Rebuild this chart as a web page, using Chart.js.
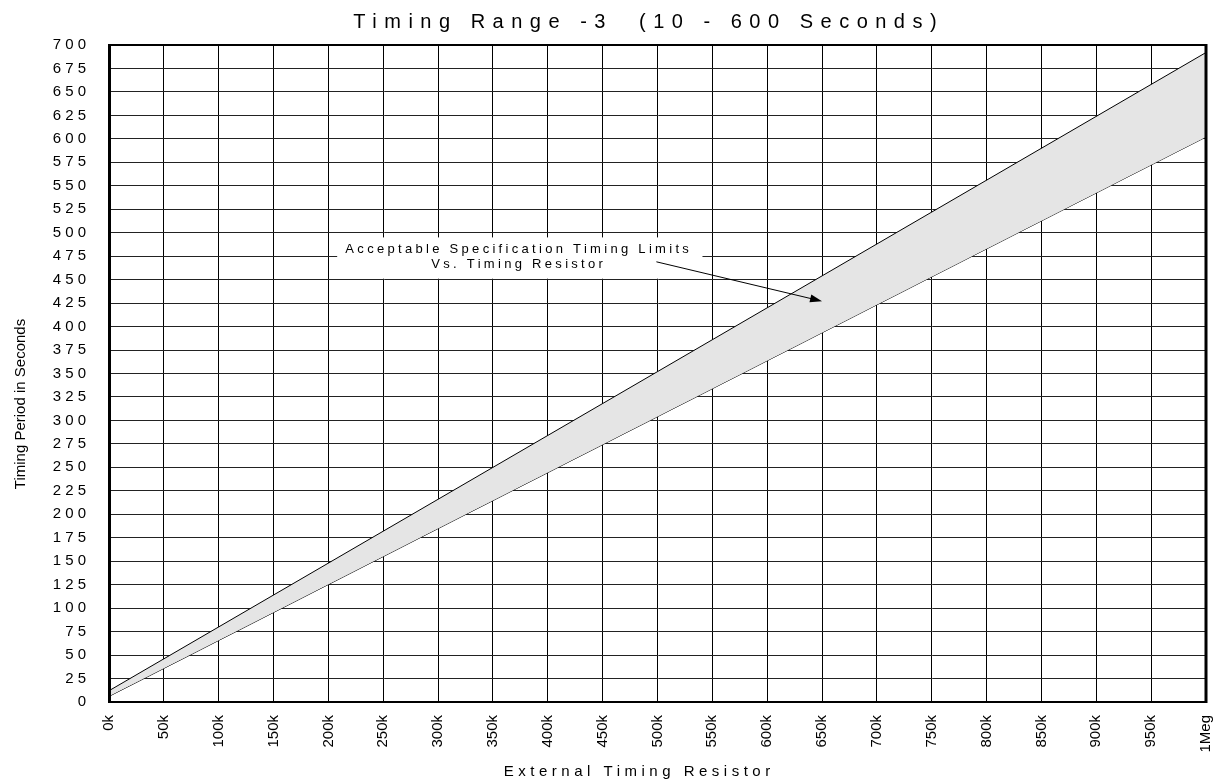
<!DOCTYPE html>
<html>
<head>
<meta charset="utf-8">
<title>Timing Range -3</title>
<script src="https://cdn.jsdelivr.net/npm/chart.js@4.4.1/dist/chart.umd.min.js"></script>
<style>
  html, body { margin: 0; padding: 0; background: #fff; }
  #wrap { width: 1220px; height: 782px; }
</style>
</head>
<body>
<div id="wrap"><canvas id="chart"></canvas></div>
<script>
// ── Data ──────────────────────────────────────────────────────────────────────

const resistorK  = [0, 1000];   // external timing resistor, kOhm
const upperLimit = [12, 692];   // seconds
const lowerLimit = [6, 602];    // seconds

const xTickLabels = ['0k', '50k', '100k', '150k', '200k', '250k', '300k', '350k', '400k', '450k',
  '500k', '550k', '600k', '650k', '700k', '750k', '800k', '850k', '900k', '950k', '1Meg'];

const TITLE   = 'Timing Range -3  (10 - 600 Seconds)';
const X_TITLE = 'External Timing Resistor';
const Y_TITLE = 'Timing Period in Seconds';
const NOTE    = ['Acceptable Specification Timing Limits', 'Vs. Timing Resistor'];

// annotation placement, in data units (kOhm / seconds)
const NOTE_BOX   = { x0: 208, x1: 541, y0: 451, y1: 495 };
const NOTE_TEXT  = { x: 372, y: [478.5, 462.5] };
const NOTE_ARROW = { x0: 499, y0: 469, x1: 650, y1: 427 };

// ── Drawing helpers ───────────────────────────────────────────────────────────

const FONT = 'Arial, "Liberation Sans", Helvetica, sans-serif';

function spacedText(ctx, text, x, y, size, spacing) {
  ctx.save();
  ctx.font = `${size}px ${FONT}`;
  ctx.letterSpacing = '0px';
  const w = ctx.measureText(text).width + spacing * (text.length - 1);
  ctx.letterSpacing = spacing + 'px';
  ctx.fillStyle = '#000';
  ctx.textAlign = 'left';
  ctx.textBaseline = 'alphabetic';
  ctx.fillText(text, x - w / 2, y);
  ctx.restore();
}

const decor = {
  id: 'decor',
  beforeDatasetsDraw(chart) {
    const { ctx, scales: { x, y } } = chart;
    const l = x.getPixelForValue(NOTE_BOX.x0), r = x.getPixelForValue(NOTE_BOX.x1);
    const t = y.getPixelForValue(NOTE_BOX.y1), b = y.getPixelForValue(NOTE_BOX.y0);
    ctx.save();
    ctx.fillStyle = '#fff';
    ctx.fillRect(l, t, r - l, b - t);
    ctx.restore();
    NOTE.forEach((line, i) => {
      spacedText(ctx, line, x.getPixelForValue(NOTE_TEXT.x), y.getPixelForValue(NOTE_TEXT.y[i]), 13, 3.3);
    });
  },
  afterDatasetsDraw(chart) {
    const { ctx, chartArea: a, scales: { x, y } } = chart;
    // arrow
    const x0 = x.getPixelForValue(NOTE_ARROW.x0), y0 = y.getPixelForValue(NOTE_ARROW.y0);
    const x1 = x.getPixelForValue(NOTE_ARROW.x1), y1 = y.getPixelForValue(NOTE_ARROW.y1);
    const ang = Math.atan2(y1 - y0, x1 - x0);
    ctx.save();
    ctx.strokeStyle = '#000';
    ctx.fillStyle = '#000';
    ctx.lineWidth = 1;
    ctx.beginPath();
    ctx.moveTo(x0, y0);
    ctx.lineTo(x1 - 10 * Math.cos(ang), y1 - 10 * Math.sin(ang));
    ctx.stroke();
    ctx.beginPath();
    ctx.moveTo(x1, y1);
    ctx.lineTo(x1 - 12 * Math.cos(ang) + 4 * Math.sin(ang), y1 - 12 * Math.sin(ang) - 4 * Math.cos(ang));
    ctx.lineTo(x1 - 12 * Math.cos(ang) - 4 * Math.sin(ang), y1 - 12 * Math.sin(ang) + 4 * Math.cos(ang));
    ctx.closePath();
    ctx.fill();
    // top and right frame
    ctx.beginPath();
    ctx.lineWidth = 2;
    ctx.moveTo(a.left - 1, a.top);
    ctx.lineTo(a.right, a.top);
    ctx.stroke();
    ctx.beginPath();
    ctx.lineWidth = 3;
    ctx.moveTo(a.right, a.top - 1);
    ctx.lineTo(a.right, a.bottom + 1);
    ctx.stroke();
    ctx.restore();
  },
  afterDraw(chart) {
    const { ctx } = chart;
    spacedText(ctx, TITLE, 645, 28, 20, 7.5);
    spacedText(ctx, X_TITLE, 637, 776, 15, 4.5);
    ctx.save();
    ctx.translate(25, 404);
    ctx.rotate(-Math.PI / 2);
    spacedText(ctx, Y_TITLE, 0, 0, 15, 0);
    ctx.restore();
  }
};

// ── Chart ─────────────────────────────────────────────────────────────────────

new Chart(document.getElementById('chart'), {
  type: 'line',
  data: {
    datasets: [
      {
        label: 'Upper limit',
        data: resistorK.map((r, i) => ({ x: r, y: upperLimit[i] })),
        borderColor: '#000',
        borderWidth: 1,
        backgroundColor: '#e5e5e5',
        pointRadius: 0,
        tension: 0,
        fill: '+1',
      },
      {
        label: 'Lower limit',
        data: resistorK.map((r, i) => ({ x: r, y: lowerLimit[i] })),
        borderColor: '#000',
        borderWidth: 1,
        pointRadius: 0,
        tension: 0,
        fill: false,
      }
    ]
  },
  options: {
    responsive: true,
    maintainAspectRatio: false,
    animation: false,
    layout: { padding: { top: 45, right: 14, left: 0, bottom: 0 } },
    plugins: {
      legend: { display: false },
      tooltip: { enabled: false },
      title: { display: false },
    },
    scales: {
      x: {
        type: 'linear',
        min: 0,
        max: 1000,
        afterFit: s => { s.height = 80; s.paddingLeft = 0; s.paddingRight = 0; },
        ticks: {
          stepSize: 50,
          autoSkip: false,
          minRotation: 90,
          maxRotation: 90,
          padding: 13,
          color: '#000',
          font: { family: FONT, size: 15 },
          callback: (v, i) => xTickLabels[i],
        },
        grid: { color: '#000', lineWidth: 1, drawTicks: false },
        border: { display: true, color: '#000', width: 2, z: 1 },
      },
      y: {
        min: 0,
        max: 700,
        afterFit: s => { s.width = 109; s.paddingTop = 0; s.paddingBottom = 0; },
        ticks: {
          stepSize: 25,
          autoSkip: false,
          padding: 23,
          color: '#000',
          font: { family: FONT, size: 15 },
          callback: v => String(v).split('').join(' '),
        },
        grid: { color: '#222', lineWidth: 1, drawTicks: false },
        border: { display: true, color: '#000', width: 3, z: 1 },
      }
    }
  },
  plugins: [decor]
});
</script>
</body>
</html>
